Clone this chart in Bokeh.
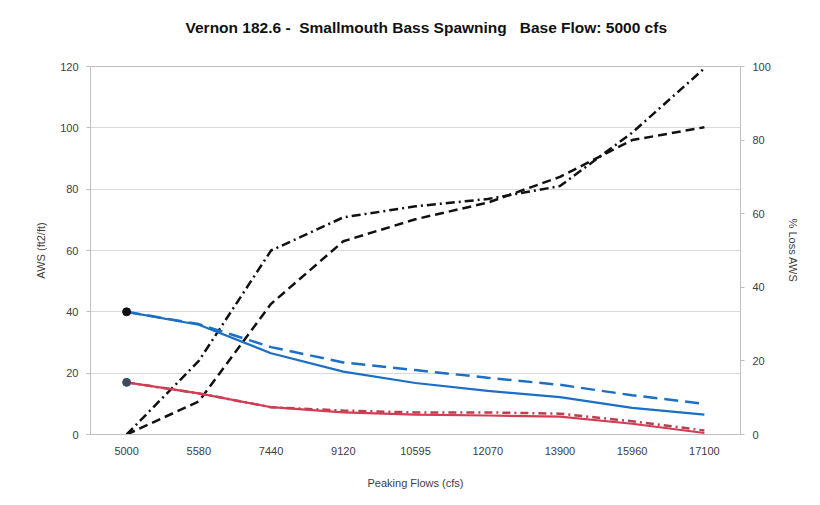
from bokeh.plotting import figure
from bokeh.models import Range1d, LinearAxis, FactorRange, FixedTicker
from bokeh.embed import file_html
from bokeh.resources import INLINE

flows = ["5000", "5580", "7440", "9120", "10595", "12070", "13900", "15960", "17100"]
aws_blue_solid = [40, 35.8, 26.5, 20.5, 16.8, 14.2, 12.2, 8.7, 6.5]
aws_blue_dash = [40, 36.0, 28.5, 23.5, 21.0, 18.5, 16.2, 12.8, 10.0]
aws_red_solid = [17, 13.4, 8.9, 7.2, 6.5, 6.2, 5.8, 3.5, 0.5]
aws_red_dashdot = [17, 13.4, 8.9, 7.8, 7.2, 7.2, 6.8, 4.3, 1.3]
loss_dashdot = [0, 20, 50, 59, 62, 64, 67.5, 82, 99.5]
loss_dash = [0, 9, 35.5, 52.5, 58.5, 63, 70, 80, 83.5]
left_ticks = [0, 20, 40, 60, 80, 100, 120]
right_ticks = [0, 20, 40, 60, 80, 100]
title_text = "Vernon 182.6 -\u00a0\u00a0Smallmouth Bass Spawning\u00a0\u00a0\u00a0Base Flow: 5000 cfs\n\u00a0"

FONT = "Liberation Sans"
TXT = "#404040"

p = figure(width=816, height=500, x_range=FactorRange(*flows), y_range=Range1d(0, 120),
           output_backend="svg", toolbar_location=None, title=title_text,
           min_border_left=90, min_border_right=76, min_border_top=66, min_border_bottom=66)
p.extra_y_ranges = {"loss": Range1d(0, 100)}

p.title.align = "left"
p.title.text_font = FONT
p.title.text_font_size = "15.5px"
p.title.text_font_style = "bold"
p.title.text_color = "#111111"
p.title.standoff = 27
p.title.offset = 95

p.outline_line_color = "#bfbfbf"
p.xgrid.grid_line_color = None
p.ygrid.grid_line_color = "#d9d9d9"
p.ygrid.ticker = FixedTicker(ticks=left_ticks)

# left axis
la = p.yaxis[0]
la.ticker = FixedTicker(ticks=left_ticks)
la.axis_label = "AWS (ft2/ft)"
la.axis_label_text_font = FONT
la.axis_label_text_font_size = "11px"
la.axis_label_text_font_style = "normal"
la.axis_label_text_color = TXT
la.axis_label_standoff = 10
la.major_label_text_font = FONT
la.major_label_text_font_size = "11px"
la.major_label_text_color = TXT
la.major_label_standoff = 8
la.axis_line_color = "#bfbfbf"
la.major_tick_line_color = "#bfbfbf"
la.major_tick_out = 4
la.major_tick_in = 0
la.minor_tick_line_color = None

ra = LinearAxis(y_range_name="loss", ticker=FixedTicker(ticks=right_ticks))
ra.axis_label = "% Loss AWS"
ra.axis_label_text_font = FONT
ra.axis_label_text_font_size = "11px"
ra.axis_label_text_font_style = "normal"
ra.axis_label_text_color = TXT
ra.axis_label_standoff = 13
ra.major_label_text_font = FONT
ra.major_label_text_font_size = "11px"
ra.major_label_text_color = TXT
ra.major_label_standoff = 8
ra.axis_line_color = "#bfbfbf"
ra.major_tick_line_color = "#bfbfbf"
ra.major_tick_out = 4
ra.major_tick_in = 0
ra.minor_tick_line_color = None
p.add_layout(ra, "right")

xa = p.xaxis[0]
xa.axis_label = "Peaking Flows (cfs)"
xa.axis_label_text_font = FONT
xa.axis_label_text_font_size = "11px"
xa.axis_label_text_font_style = "normal"
xa.axis_label_text_color = TXT
xa.axis_label_standoff = 19
xa.major_label_text_font = FONT
xa.major_label_text_font_size = "11px"
xa.major_label_text_color = TXT
xa.major_label_standoff = 6
xa.axis_line_color = "#bfbfbf"
xa.major_tick_line_color = None

# % loss lines (right axis)
p.line(flows, loss_dashdot, y_range_name="loss", line_color="#111111", line_width=2.5,
       line_dash="9 4 2 4")
p.line(flows, loss_dash, y_range_name="loss", line_color="#111111", line_width=2.5,
       line_dash="9 5")

# AWS lines (left axis)
p.line(flows, aws_red_dashdot, line_color="#b9404e", line_width=2.5, line_dash="8 4 2 4")
p.line(flows, aws_red_solid, line_color="#d23c55", line_width=2.2)
p.line(flows, aws_blue_dash, line_color="#1b6fc4", line_width=2.5, line_dash="14 7")
p.line(flows, aws_blue_solid, line_color="#1b6fc4", line_width=2.2)

p.scatter([flows[0]], [aws_blue_solid[0]], size=8, color="#111111")
p.scatter([flows[0]], [aws_red_solid[0]], size=8, color="#3d4c5c")

open("out.html", "w").write(file_html(p, INLINE))
